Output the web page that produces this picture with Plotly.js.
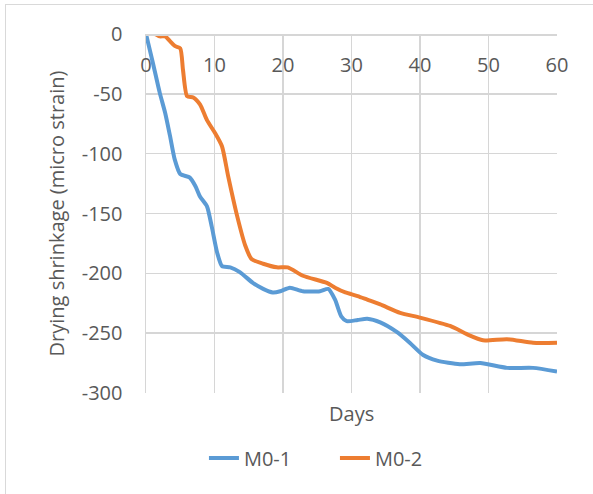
<!DOCTYPE html>
<html>
<head>
<meta charset="utf-8">
<script src="https://cdn.plot.ly/plotly-3.0.1.min.js"></script>
<style>
  html, body { margin: 0; padding: 0; background: #ffffff; }
  #frame { position: absolute; left: 5px; top: 4px; width: 700px; height: 700px;
           border-left: 1.5px solid #d9d9d9; border-top: 1.5px solid #d9d9d9; z-index: 0; }
  #chart { position: absolute; left: 0; top: 0; width: 593px; height: 494px; z-index: 1; }
</style>
</head>
<body>
<div id="frame"></div>
<div id="chart"></div>
<script>
// Series M0-1 (blue)
const daysM01 = [0, 1, 2, 2.8, 3.5, 4.2, 5, 6.4, 7.2, 7.9, 8.9, 9.6, 10.4, 11.1, 12.3, 13.7, 15.6, 17.1, 18.5, 19.6, 21, 22.9, 25.4, 26.6, 27.6, 28.5, 29.3, 30.9, 32.3, 34.2, 36.6, 38.5, 40.4, 42.5, 45.8, 48.8, 52.7, 56.5, 60];
const strainM01 = [0, -24, -49, -66, -85, -105, -117, -120, -127, -136, -144, -161, -183, -194, -195, -199, -208, -213, -216, -215, -212, -215, -215, -213, -222, -236, -240, -239, -238, -241, -249, -258, -268, -273, -276, -275, -279, -279, -282];

// Series M0-2 (orange)
const daysM02 = [0, 1.3, 2, 2.8, 3.5, 4.2, 5, 5.4, 6.0, 6.9, 7.9, 8.9, 10.1, 11.1, 12, 13.3, 14.5, 15.4, 17.1, 19.1, 20.7, 22.9, 26.4, 27.6, 29.1, 30.9, 32.3, 34.2, 37.1, 40, 44.4, 46.9, 49.2, 52.7, 56.5, 60];
const strainM02 = [0, 0, -2, -2, -6, -10, -12, -30, -52, -53, -59, -72, -83, -94, -119, -152, -177, -188, -192, -195, -195, -202, -208, -212, -216, -219, -222, -226, -233, -237, -244, -251, -256, -255, -258, -258];

const seriesNames = ["M0-1", "M0-2"];
const xTicks = [0, 10, 20, 30, 40, 50, 60];
const yTicks = [0, -50, -100, -150, -200, -250, -300];
const xTitle = "Days";
const yTitle = "Drying shrinkage (micro strain)";

const FONT = "Open Sans, Lato, sans-serif";
const TXT = "#595959";
const GRID = "#d6d6d6";

const traces = [
  { x: daysM01, y: strainM01, name: seriesNames[0], mode: "lines",
    line: { color: "#5B9BD5", width: 4, shape: "spline", smoothing: 0.6 } },
  { x: daysM02, y: strainM02, name: seriesNames[1], mode: "lines",
    line: { color: "#ED7D31", width: 4, shape: "spline", smoothing: 0.6 } }
];

const layout = {
  width: 593, height: 494,
  margin: { l: 146, r: 36, t: 34, b: 101 },
  paper_bgcolor: "rgba(0,0,0,0)",
  plot_bgcolor: "rgba(0,0,0,0)",
  font: { family: FONT, size: 20, color: TXT },
  showlegend: true,
  legend: { orientation: "h", x: 0.141, xanchor: "left", y: -0.181, yanchor: "middle",
            font: { family: FONT, size: 20, color: TXT },
            entrywidth: 86, entrywidthmode: "pixels", tracegroupgap: 0 },
  xaxis: {
    range: [0, 60], tickvals: xTicks, ticktext: xTicks.map(String),
    side: "bottom", anchor: "free", position: 1, ticks: "", ticklabelstandoff: 12,
    showgrid: true, gridcolor: GRID, gridwidth: 1.5,
    showline: true, linecolor: GRID, linewidth: 1.5,
    zeroline: false, fixedrange: true,
    tickfont: { family: FONT, size: 20, color: TXT }
  },
  yaxis: {
    range: [-300, 0], tickvals: yTicks, ticktext: yTicks.map(String),
    ticks: "", ticklabelstandoff: 18,
    showgrid: true, gridcolor: GRID, gridwidth: 1.5,
    showline: true, linecolor: GRID, linewidth: 1.5,
    zeroline: false, fixedrange: true,
    tickfont: { family: FONT, size: 20, color: TXT },
    title: { text: yTitle, standoff: 12, font: { family: FONT, size: 20, color: TXT } }
  },
  annotations: [
    { text: xTitle, xref: "paper", yref: "paper", x: 0.5, y: (393 - 413) / 359,
      xanchor: "center", yanchor: "middle", showarrow: false,
      font: { family: FONT, size: 20, color: TXT } }
  ]
};

Plotly.newPlot("chart", traces, layout, { displayModeBar: false, staticPlot: true });
</script>
</body>
</html>
